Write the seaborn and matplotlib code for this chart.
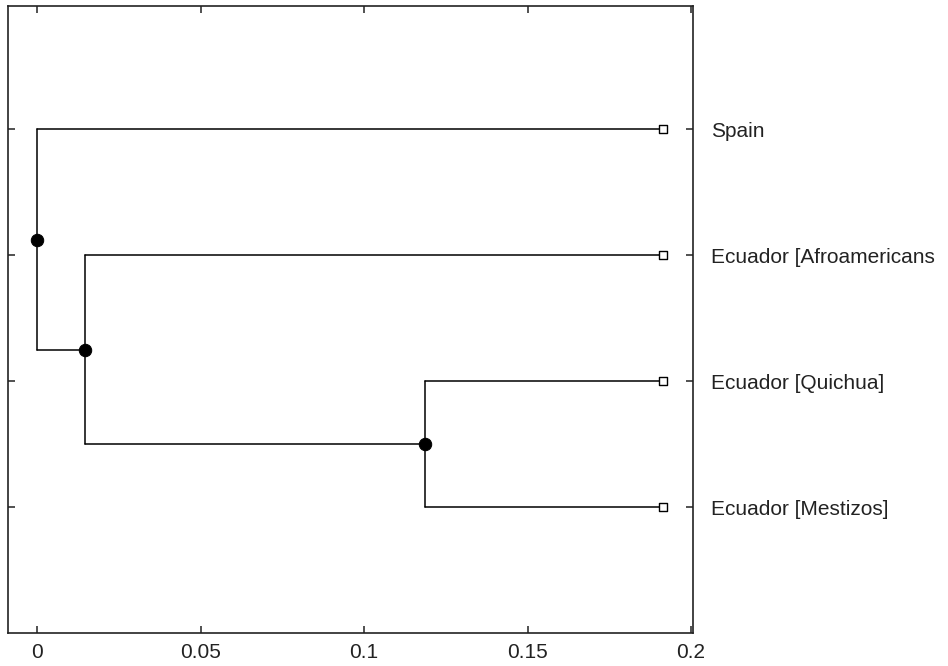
import pandas as pd
import matplotlib
matplotlib.use("Agg")
import matplotlib.pyplot as plt
import seaborn as sns

# Leaves, top to bottom
labels = ["Spain", "Ecuador [Afroamericans", "Ecuador [Quichua]", "Ecuador [Mestizos]"]
leaf_x = 0.1914

# Internal nodes: distance along x and children (leaf index or "n<k>")
node_names = ["n0", "n1", "n2"]
node_x = [0.0, 0.0147, 0.1187]
node_children = [[0, "n1"], [1, "n2"], [2, 3]]

xticks = [0, 0.05, 0.1, 0.15, 0.2]
xtick_labels = ["0", "0.05", "0.1", "0.15", "0.2"]

# positions of every node (leaves at 1..n, parents at mid of children)
pos = {i: (leaf_x, i + 1) for i in range(len(labels))}
for name, x, kids in reversed(list(zip(node_names, node_x, node_children))):
    ys = [pos[k][1] for k in kids]
    pos[name] = (x, (min(ys) + max(ys)) / 2)

rows = []
seg = 0
for name, kids in zip(node_names, node_children):
    x, y = pos[name]
    ys = [pos[k][1] for k in kids]
    rows += [(seg, x, min(ys)), (seg, x, max(ys))]
    seg += 1
    for k in kids:
        cx, cy = pos[k]
        rows += [(seg, x, cy), (seg, cx, cy)]
        seg += 1
segs = pd.DataFrame(rows, columns=["seg", "x", "y"])
nodes = pd.DataFrame([pos[n] for n in node_names], columns=["x", "y"])
leaves = pd.DataFrame([pos[i] for i in range(len(labels))], columns=["x", "y"])

sns.set_style("white")
plt.rcParams["font.family"] = ["Liberation Sans", "DejaVu Sans"]

fig = plt.figure(figsize=(9.48, 6.66), dpi=100)
ax = fig.add_axes([8 / 948, 1 - 633 / 666, 685 / 948, 627 / 666])

sns.lineplot(data=segs, x="x", y="y", units="seg", estimator=None, sort=False,
             color="black", linewidth=1.1, ax=ax, legend=False)
sns.scatterplot(data=nodes, x="x", y="y", s=80, color="black", marker="o",
                edgecolor="black", ax=ax, zorder=5, legend=False)
sns.scatterplot(data=leaves, x="x", y="y", s=28, color="white", marker="s",
                edgecolor="black", linewidth=1.0, ax=ax, zorder=5, legend=False)

ax.set_xlim(-0.00887, 0.2006)
ax.set_ylim(5.0, 0.02)
ax.set_xticks(xticks)
ax.set_xticklabels(xtick_labels)
ax.set_yticks(range(1, len(labels) + 1))
ax.set_yticklabels(labels)
ax.set_xlabel("")
ax.set_ylabel("")

for s in ax.spines.values():
    s.set_visible(True)
    s.set_color("#222222")
    s.set_linewidth(1.2)

ax.tick_params(axis="x", direction="in", length=5, width=1.1, top=True, bottom=True,
               labelsize=15, pad=7, colors="#222222")
ax.tick_params(axis="y", direction="in", length=5, width=1.1, left=True, right=True,
               labelleft=False, labelright=True, labelsize=15, pad=13, colors="#222222")

fig.savefig("out.png", dpi=100)
